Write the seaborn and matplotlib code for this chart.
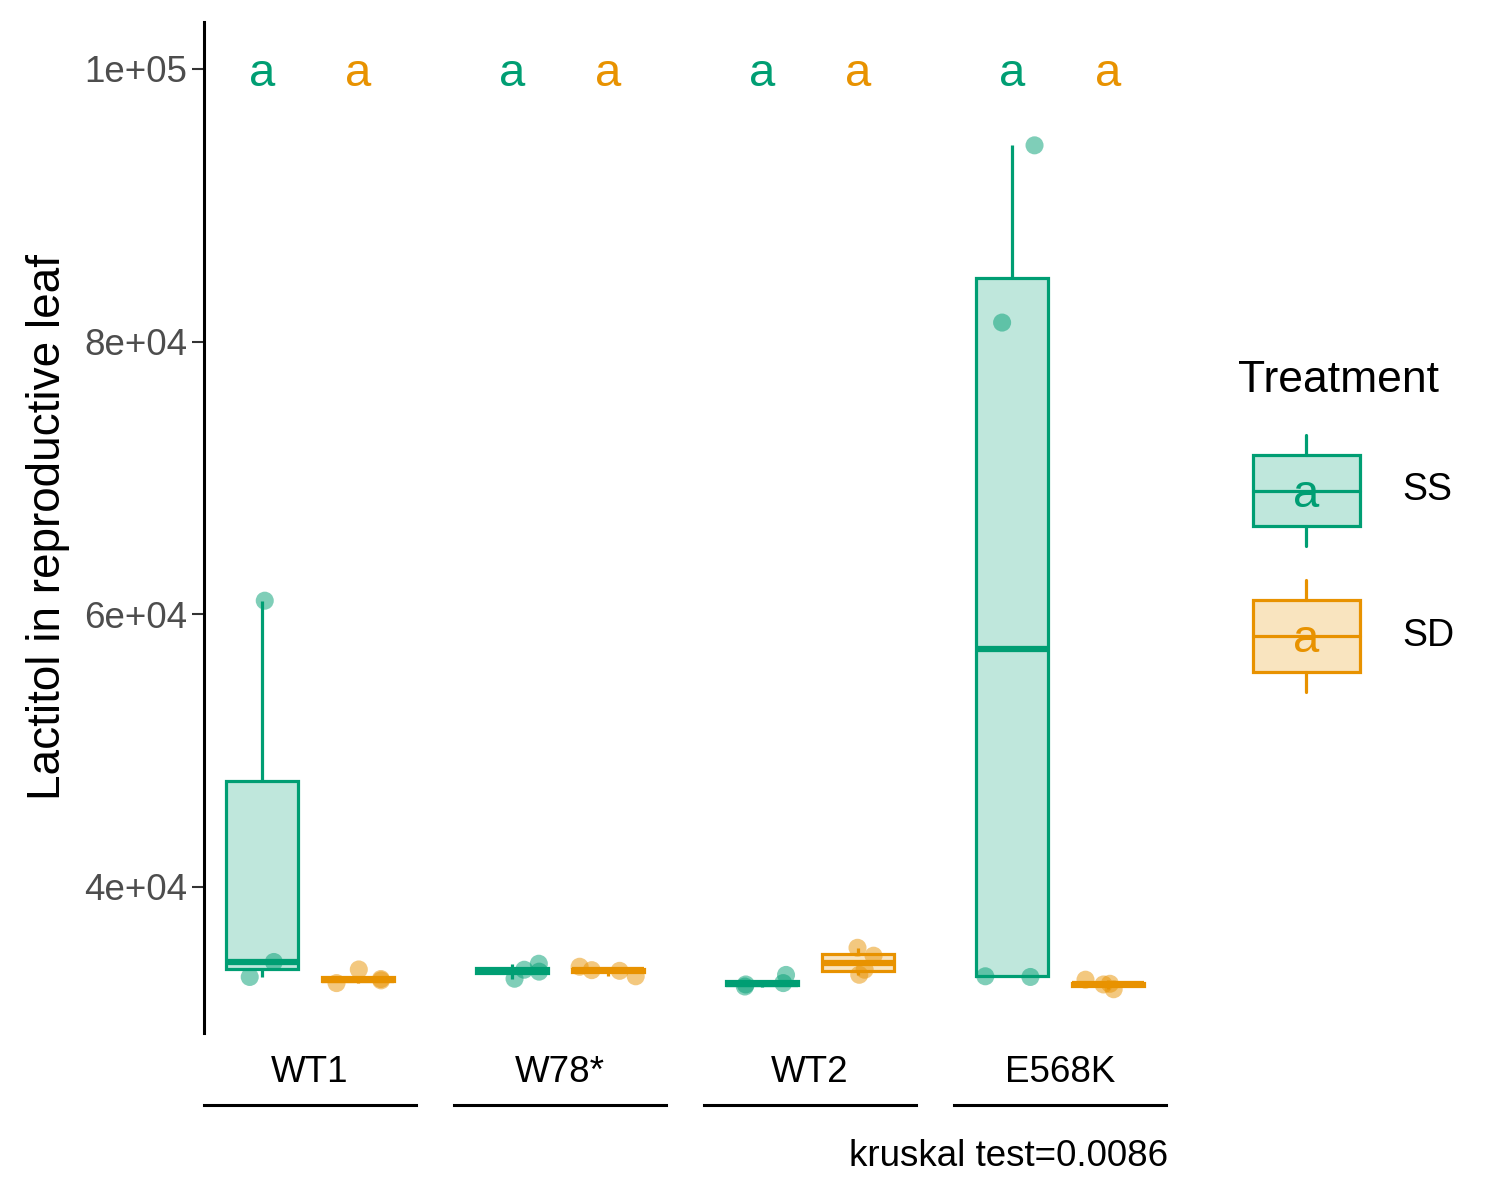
import numpy as np
import pandas as pd
import seaborn as sns
import matplotlib.pyplot as plt
from matplotlib.patches import Patch, Rectangle
from matplotlib.lines import Line2D
from matplotlib.text import Text
from matplotlib.legend_handler import HandlerBase

sns.set_style("white")
plt.rcParams["font.family"] = ["Liberation Sans", "DejaVu Sans"]
plt.rcParams["text.color"] = "black"

# values
genotypes = ["WT1", "W78*", "WT2", "E568K"]
treatments = ["SS", "SD"]
wt1_ss = [61000, 34500, 33400]
wt1_sd = [33950, 33250, 33150, 32950]
w78_ss = [34370, 33270, 33790, 33930]
w78_sd = [33850, 33900, 33450, 34150]
wt2_ss = [32850, 32950, 32700, 33550]
wt2_sd = [35540, 33930, 34960, 33560]
e568k_ss = [94400, 81400, 33400, 33450]
e568k_sd = [33200, 32500, 32900, 32850]
letters = [["a", "a"], ["a", "a"], ["a", "a"], ["a", "a"]]
letter_y = 100000
y_ticks = [40000, 60000, 80000, 100000]
y_ticklabels = ["4e+04", "6e+04", "8e+04", "1e+05"]
caption = "kruskal test=0.0086"

groups = {
    ("WT1", "SS"): wt1_ss, ("WT1", "SD"): wt1_sd,
    ("W78*", "SS"): w78_ss, ("W78*", "SD"): w78_sd,
    ("WT2", "SS"): wt2_ss, ("WT2", "SD"): wt2_sd,
    ("E568K", "SS"): e568k_ss, ("E568K", "SD"): e568k_sd,
}
rows = []
for (g, t), vals in groups.items():
    for v in vals:
        rows.append({"Genotype": g, "Treatment": t, "value": v})
df = pd.DataFrame(rows)

cols = {"SS": "#009E73", "SD": "#E89200"}


def lighten(c, a=0.25):
    r, g, b = plt.matplotlib.colors.to_rgb(c)
    return (a * r + 1 - a, a * g + 1 - a, a * b + 1 - a)


fills = {t: lighten(c) for t, c in cols.items()}

W, H = 1500, 1200
fig = plt.figure(figsize=(15, 12), dpi=100)
bottom = 1 - 1033 / H
height = (1033 - 22) / H
axes = []
for i, g in enumerate(genotypes):
    ax = fig.add_axes([(204 + i * 250) / W, bottom, 212 / W, height])
    axes.append(ax)
    sub = df[df.Genotype == g]
    for t in treatments:
        sns.boxplot(data=sub[sub.Treatment == t], x="Treatment", y="value",
                    order=treatments, color=fills[t], linecolor=cols[t],
                    saturation=1, width=0.75, showfliers=False, showcaps=False,
                    linewidth=2.3, medianprops={"linewidth": 4.5}, ax=ax)
    np.random.seed(i + 3)
    sns.stripplot(data=sub, x="Treatment", y="value", hue="Treatment",
                  order=treatments, hue_order=treatments, palette=cols,
                  jitter=0.3, alpha=0.5, size=13, linewidth=0, legend=False,
                  zorder=3, ax=ax)
    for j, t in enumerate(treatments):
        ax.annotate(letters[i][j], (j, letter_y), xytext=(0, -5),
                    textcoords="offset pixels", color=cols[t], fontsize=34,
                    ha="center", va="center")
    ax.set_xlim(-0.6, 1.6)
    ax.set_ylim(29290, 103447)
    ax.set_xlabel("")
    ax.set_ylabel("")
    ax.set_xticks([])
    for s in ["top", "right", "left"]:
        ax.spines[s].set_visible(False)
    ax.spines["bottom"].set_position(("outward", 52))
    ax.spines["bottom"].set_linewidth(2.2)
    ax.spines["bottom"].set_color("black")
    ax.text(0.5, -0.0386, g, transform=ax.transAxes, ha="center",
            va="center", fontsize=26.5, color="black")
    if i == 0:
        ax.spines["left"].set_visible(True)
        ax.spines["left"].set_linewidth(2.2)
        ax.spines["left"].set_color("black")
        ax.set_yticks(y_ticks)
        ax.set_yticklabels(y_ticklabels)
        ax.tick_params(axis="y", length=9, width=1.5, color="#333333",
                       labelsize=26.5, labelcolor="#4D4D4D", pad=3, left=True)
        ax.set_ylabel("Lactitol in reproductive leaf", fontsize=33,
                      color="black", labelpad=10)
    else:
        ax.set_yticks([])


class BoxKey(HandlerBase):
    def create_artists(self, legend, orig_handle, xdescent, ydescent,
                       width, height, fontsize, trans):
        col = orig_handle.get_edgecolor()
        fc = orig_handle.get_facecolor()
        x0, y0 = -xdescent, -ydescent
        bw = width * 107 / 137
        bx = x0 + (width - bw) / 2
        cx = x0 + width / 2
        b0, b1 = y0 + height * 0.18, y0 + height * 0.82
        rect = Rectangle((bx, b0), bw, b1 - b0, facecolor=fc, edgecolor=col,
                         linewidth=2.3, transform=trans)
        med = Line2D([bx, bx + bw], [y0 + height / 2] * 2, color=col,
                     linewidth=2.3, transform=trans)
        w1 = Line2D([cx, cx], [b1, y0 + height], color=col, linewidth=2.3,
                    transform=trans)
        w2 = Line2D([cx, cx], [y0, b0], color=col, linewidth=2.3,
                    transform=trans)
        txt = Text(cx, y0 + height / 2 - 3, "a", color=col, fontsize=34,
                   ha="center", va="center", transform=trans,
                   fontfamily="Liberation Sans")
        return [rect, med, w1, w2, txt]


handles = [Patch(facecolor=fills[t], edgecolor=cols[t]) for t in treatments]
leg = fig.legend(handles, treatments, title="Treatment",
                 handler_map={Patch: BoxKey()}, loc="upper left",
                 bbox_to_anchor=(1238 / W, 1 - 360 / H), frameon=False,
                 fontsize=27, title_fontsize=32, alignment="left",
                 handlelength=3.65, handleheight=4.2, handletextpad=0.72,
                 labelspacing=0.9, borderpad=0, borderaxespad=0)
leg.get_title().set_color("black")
for txt in leg.get_texts():
    txt.set_color("black")

fig.text(1168 / W, 1 - 1157 / H, caption, ha="right", va="center",
         fontsize=26.5, color="black")

fig.savefig("out.png", dpi=100)
